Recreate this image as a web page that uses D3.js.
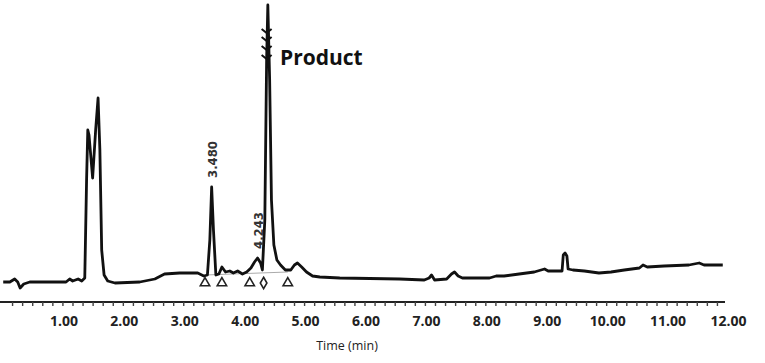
<!DOCTYPE html>
<html lang="en">
<head>
    <meta charset="UTF-8">
    <title>Chromatogram</title>
    <style>
        body { margin: 0; background: #fff; }
        .domain { display: none; }
    </style>
</head>
<body>
    <svg width="765" height="363" id="svg"></svg>
    <script src="https://d3js.org/d3.v7.min.js"></script>
    <script>
        // retention time (min) and detector signal (arbitrary units)
        const times = [0.02, 0.13, 0.21, 0.26, 0.30, 0.36, 0.46, 1.06, 1.12, 1.17, 1.26, 1.32, 1.37, 1.40, 1.42, 1.44,
            1.50, 1.55, 1.59, 1.62, 1.65, 1.69, 1.75, 1.87, 2.28, 2.53, 2.69, 2.94, 3.24, 3.34, 3.40, 3.44, 3.47,
            3.50, 3.54, 3.59, 3.64, 3.70, 3.77, 3.83, 3.90, 3.98, 4.05, 4.12, 4.18, 4.23, 4.28, 4.31, 4.35, 4.38,
            4.40, 4.43, 4.46, 4.50, 4.55, 4.61, 4.69, 4.78, 4.84, 4.89, 4.96, 5.04, 5.14, 5.26, 5.59, 6.58, 6.99,
            7.07, 7.11, 7.16, 7.36, 7.44, 7.49, 7.55, 7.62, 8.07, 8.18, 8.31, 8.56, 8.81, 8.98, 9.04, 9.27, 9.29,
            9.32, 9.35, 9.37, 9.45, 9.64, 9.88, 10.08, 10.30, 10.55, 10.61, 10.68, 10.96, 11.37, 11.54, 11.62, 11.93]
        const signal = [18, 18, 21, 18, 12, 16, 18, 18, 21, 19, 21, 19, 22, 120, 170, 165,
            122, 170, 202, 150, 50, 25, 19, 17, 18, 21, 26, 27, 27, 24, 25, 60, 113,
            70, 25, 26, 33, 28, 29, 27, 29, 26, 28, 32, 38, 42, 37, 30, 80, 240,
            295, 220, 100, 55, 40, 35, 30, 30, 35, 37, 33, 28, 24, 23, 22, 21, 20,
            22, 25, 20, 21, 26, 28, 24, 22, 22, 24, 24, 26, 28, 31, 29, 29, 45,
            47, 44, 31, 30, 29, 27, 28, 30, 32, 35, 33, 34, 35, 37, 35, 35]

        const tickLabels = [1, 2, 3, 4, 5, 6, 7, 8, 9, 10, 11, 12]
        const peakLabels = [{ t: 3.47, s: 113, text: "3.480" }, { t: 4.24, s: 42, text: "4.243" }]
        const baseMarks = [{ t: 3.36, kind: "tri" }, { t: 3.64, kind: "tri" }, { t: 4.10, kind: "tri" },
            { t: 4.33, kind: "dia" }, { t: 4.73, kind: "tri" }]
        const productTicks = [268, 260, 251, 242]

        const svg = d3.select("svg#svg")
        const data = times.map((t, i) => ({ t: t, s: signal[i] }))

        const xScale = d3.scaleLinear().domain([0, 12]).range([2, 727])
        const yScale = d3.scaleLinear().domain([0, 300]).range([300, 0])
        const axisY = 302

        // axis line + minor ticks
        svg.append("line")
            .attr("x1", 0).attr("x2", 725)
            .attr("y1", axisY).attr("y2", axisY)
            .attr("stroke", "#222").attr("stroke-width", 2)

        const minor = d3.range(1, 72).map(i => i / 6)
        svg.append("g")
            .attr("transform", `translate(0, ${axisY})`)
            .call(d3.axisBottom(xScale).tickValues(minor).tickSize(4).tickFormat(""))
            .selectAll(".tick line").attr("stroke", "#444").attr("stroke-width", 1.4)

        // tick labels
        const xAxis = svg.append("g")
            .attr("transform", `translate(1, ${axisY})`)
            .call(d3.axisBottom(xScale).tickValues(tickLabels).tickSize(0).tickPadding(14)
                .tickFormat(d3.format(".2f")))
        xAxis.selectAll("text")
            .attr("font-family", "Open Sans")
            .attr("font-weight", 700)
            .attr("font-size", 14)
            .attr("fill", "#222")

        svg.append("text")
            .attr("x", 347).attr("y", 350)
            .attr("text-anchor", "middle")
            .attr("font-family", "Open Sans")
            .attr("font-size", 12.5)
            .attr("fill", "#222")
            .text("Time (min)")

        // faint integration baseline
        svg.append("line")
            .attr("x1", xScale(3.36)).attr("x2", xScale(4.73))
            .attr("y1", yScale(25)).attr("y2", yScale(28))
            .attr("stroke", "#aaa").attr("stroke-width", 1)

        // trace
        const line = d3.line().x(d => xScale(d.t)).y(d => yScale(d.s))
        svg.append("path")
            .datum(data)
            .attr("fill", "none")
            .attr("stroke", "#111")
            .attr("stroke-width", 2.8)
            .attr("stroke-linejoin", "round")
            .attr("d", line)

        // baseline markers
        svg.append("g").selectAll("path")
            .data(baseMarks)
            .join("path")
            .attr("transform", d => `translate(${xScale(d.t)}, ${yScale(17)})`)
            .attr("d", d => d3.symbol().type(d.kind === "dia" ? d3.symbolDiamond : d3.symbolTriangle).size(38)())
            .attr("fill", "#fff")
            .attr("stroke", "#222")
            .attr("stroke-width", 1.6)

        // marks on the product peak
        svg.append("g").selectAll("path")
            .data(productTicks)
            .join("path")
            .attr("d", d => {
                const x = xScale(4.38), y = yScale(d)
                return `M${x - 5},${y - 3}L${x},${y + 1}L${x + 5},${y - 3}`
            })
            .attr("fill", "none")
            .attr("stroke", "#111")
            .attr("stroke-width", 2)

        // rotated peak labels
        svg.append("g").selectAll("text")
            .data(peakLabels)
            .join("text")
            .attr("transform", d => `translate(${xScale(d.t) + 5}, ${yScale(d.s) - 9}) rotate(-90)`)
            .attr("font-family", "DejaVu Sans Condensed, DejaVu Sans")
            .attr("font-weight", 700)
            .attr("font-size", 13)
            .attr("fill", "#333")
            .text(d => d.text)

        svg.append("text")
            .attr("x", 280).attr("y", 65)
            .attr("font-family", "Open Sans")
            .attr("font-weight", 700)
            .attr("font-size", 21)
            .attr("fill", "#111")
            .text("Product")
    </script>
</body>
</html>
